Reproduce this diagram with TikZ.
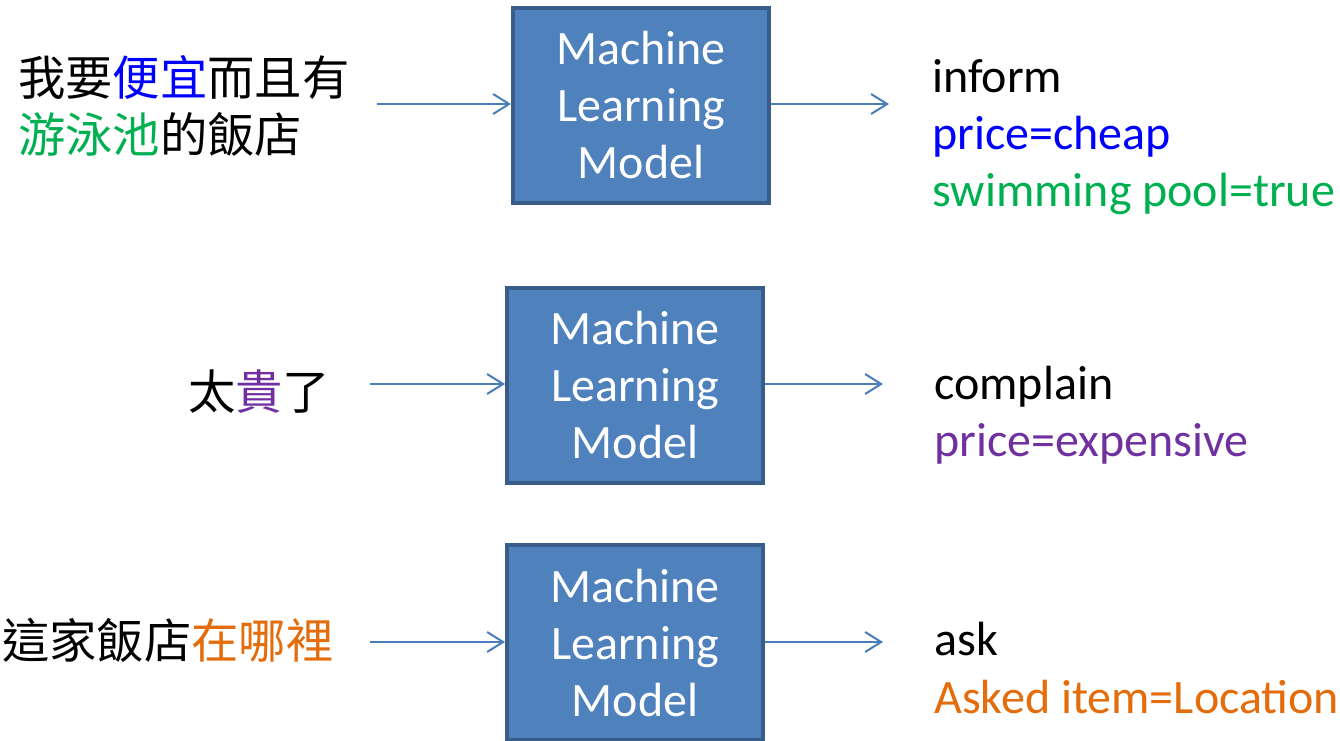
\documentclass[tikz,border=0pt]{standalone}
\usepackage{fontspec}
\setmainfont{Carlito}
\newfontfamily\cjk{Noto Sans CJK TC}
\usetikzlibrary{arrows.meta}
\definecolor{boxfill}{HTML}{4F81BD}
\definecolor{boxline}{HTML}{385D8A}
\definecolor{arrowc}{HTML}{4A7EBB}
\definecolor{cblue}{HTML}{0000FF}
\definecolor{cgreen}{HTML}{00B050}
\definecolor{cpurple}{HTML}{7030A0}
\definecolor{corange}{HTML}{E46C0A}
\tikzset{
  mlbox/.style={draw=boxline, fill=boxfill, line width=3pt, text=white,
    minimum width=192pt, minimum height=146pt, inner sep=0pt, align=center,
    font=\fontsize{36}{42.75}\selectfont},
  conn/.style={draw=arrowc, line width=1.5pt, -{Straight Barb[length=12pt,width=15pt,line width=1.5pt]}},
  lbl/.style={anchor=base west, inner sep=0pt, font=\fontsize{36}{43}\selectfont},
  cjklbl/.style={anchor=base west, inner sep=0pt, font=\cjk\fontsize{35.5}{43}\selectfont}
}
\begin{document}
\begin{tikzpicture}[x=0.75pt, y=-0.75pt]
\useasboundingbox (0,0) rectangle (1340,741);
% row 1
\node[mlbox] (m1) at (641,105.5) {Machine\\Learning\\Model};
\node[cjklbl] (s1a) at (18,96) {我要\textcolor{cblue}{便宜}而且有};
\node[cjklbl] (s1b) at (18,153) {\textcolor{cgreen}{游泳池}的飯店};
\coordinate (i1) at (377,104);
\coordinate (o1) at (889,104);
\draw[conn] (i1) -- (i1 -| m1.west);
\draw[conn] (o1 -| m1.east) -- (o1);
\node[lbl] (r1a) at (932,93) {inform};
\node[lbl, text=cblue] (r1b) at (932,150) {price=cheap};
\node[lbl, text=cgreen] (r1c) at (932,207) {swimming pool=true};
% row 2
\node[mlbox] (m2) at (635,385.5) {Machine\\Learning\\Model};
\node[cjklbl] (s2) at (188,410) {太\textcolor{cpurple}{貴}了};
\coordinate (i2) at (370,384);
\coordinate (o2) at (883,384);
\draw[conn] (i2) -- (i2 -| m2.west);
\draw[conn] (o2 -| m2.east) -- (o2);
\node[lbl] (r2a) at (934,400) {complain};
\node[lbl, text=cpurple] (r2b) at (934,457) {price=expensive};
% row 3
\node[mlbox] (m3) at (635,642.5) {Machine\\Learning\\Model};
\node[cjklbl] (s3) at (2,658) {這家飯店\textcolor{corange}{在哪裡}};
\coordinate (i3) at (370,642);
\coordinate (o3) at (883,642);
\draw[conn] (i3) -- (i3 -| m3.west);
\draw[conn] (o3 -| m3.east) -- (o3);
\node[lbl] (r3a) at (934,655) {ask};
\node[lbl, text=corange] (r3b) at (934,713) {Asked item=Location};
\end{tikzpicture}
\end{document}
